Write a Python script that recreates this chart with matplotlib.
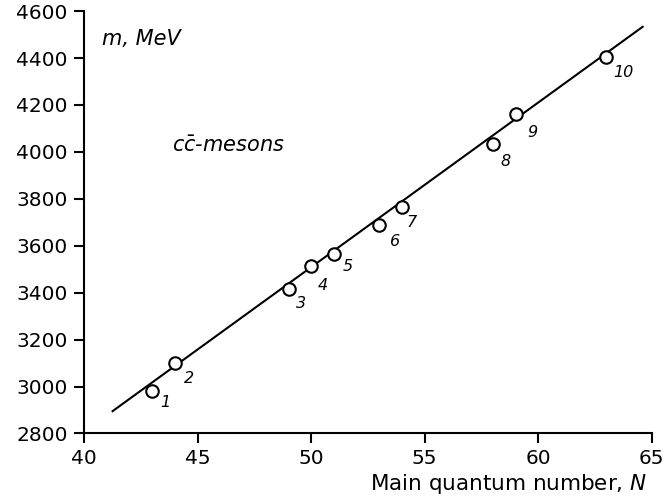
import matplotlib
matplotlib.use("Agg")
import matplotlib.pyplot as plt

plt.rcParams.update({
    "font.family": "DejaVu Sans",
    "mathtext.fontset": "dejavusans",
    "axes.linewidth": 1.5,
    "xtick.major.width": 1.5, "ytick.major.width": 1.5,
    "xtick.major.size": 7, "ytick.major.size": 7,
})

# meson states: main quantum number N and mass m (MeV)
N_vals = [43, 44, 49, 50, 51, 53, 54, 58, 59, 63]
m_vals = [2980, 3100, 3415, 3515, 3565, 3690, 3765, 4035, 4160, 4405]
labels = ["1", "2", "3", "4", "5", "6", "7", "8", "9", "10"]
# label offsets in points
offsets = [(9, -8), (10, -11), (9, -10), (8, -14), (10, -9),
           (11, -12), (7, -11), (9, -13), (12, -13), (12, -11)]

# fitted straight line
line_N = [41.25, 64.6]
line_m = [2895, 4533]

fig = plt.figure(figsize=(6.63, 5.04), dpi=100)
ax = fig.add_axes([0.127, 0.14, 0.856, 0.838])

ax.plot(line_N, line_m, color="black", linewidth=1.5, zorder=2)
ax.plot(N_vals, m_vals, "o", markersize=9, markerfacecolor="white",
        markeredgecolor="black", markeredgewidth=1.5, zorder=3)
for x, y, lab, off in zip(N_vals, m_vals, labels, offsets):
    ax.annotate(lab, (x, y), textcoords="offset points", xytext=off,
                fontsize=11.5, style="italic", ha="center", va="center")

ax.set_xlim(40, 65)
ax.set_ylim(2800, 4600)
ax.set_xticks([40, 45, 50, 55, 60, 65])
ax.set_yticks(range(2800, 4601, 200))
ax.tick_params(axis="x", labelsize=14.5, pad=4)
ax.tick_params(axis="y", labelsize=14.5, pad=5)
ax.spines["top"].set_visible(False)
ax.spines["right"].set_visible(False)

ax.text(0.031, 0.934, "m, MeV", transform=ax.transAxes, fontsize=15,
        style="italic", ha="left", va="center")
ax.text(0.155, 0.68, r"$c\bar{c}$-mesons", transform=ax.transAxes,
        fontsize=15, style="italic", ha="left", va="center")
fig.text(0.976, 0.015, "Main quantum number, $N$", fontsize=15.5,
         ha="right", va="bottom")

fig.savefig("out.png", dpi=100, facecolor="white")
